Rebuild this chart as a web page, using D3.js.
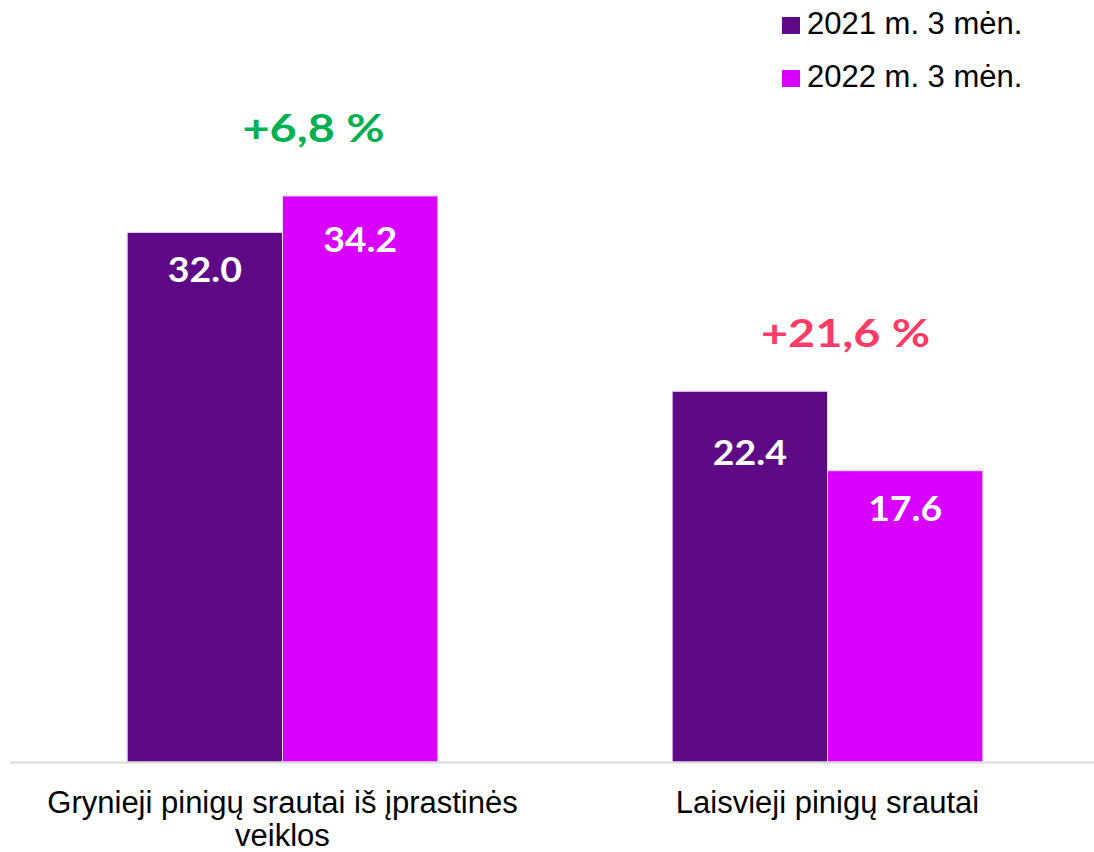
<!DOCTYPE html>
<html>
<head>
<meta charset="utf-8">
<script src="https://cdn.jsdelivr.net/npm/d3@7"></script>
<style>
  body { margin: 0; background: #fff; }
  svg { display: block; }
</style>
</head>
<body>
<svg width="1094" height="852"></svg>
<script>
const categories = [["Grynieji pinigų srautai iš įprastinės", "veiklos"], ["Laisvieji pinigų srautai"]];
const series = ["2021 m. 3 mėn.", "2022 m. 3 mėn."];
const values2021 = [32.0, 22.4];
const values2022 = [34.2, 17.6];
const changeLabels = ["+6,8 %", "+21,6 %"];
const changeColors = ["#00B050", "#FF3B68"];
const colors = ["#5E0A87", "#D800FF"];

// hand-tuned label placement (pixels), like in the original slide
const changeShift = [[31, 54], [18, 44]];      // [dx from group centre, lift above tallest bar]
const valueDrop = [[50, 56], [74, 50]];        // baseline distance below bar top

const svg = d3.select("svg");
const baseY = 762;

const x = d3.scaleBand()
    .domain(d3.range(categories.length))
    .range([10, 1100])
    .paddingInner(0.43)
    .paddingOuter(0.215);

const xs = d3.scaleBand()
    .domain(series)
    .range([0, x.bandwidth()]);

const y = d3.scaleLinear()
    .domain([0, 40])
    .range([baseY, 100]);

const rows = categories.map((c, i) => ({ i, vals: [values2021[i], values2022[i]] }));

// bars
const grp = svg.selectAll("g.grp")
    .data(rows)
    .join("g")
    .attr("class", "grp")
    .attr("transform", d => `translate(${x(d.i)},0)`);

grp.selectAll("rect")
    .data(d => d.vals.map((v, k) => ({ v, s: series[k], k, i: d.i })))
    .join("rect")
    .attr("x", d => xs(d.s))
    .attr("y", d => y(d.v))
    .attr("width", xs.bandwidth())
    .attr("height", d => baseY - y(d.v))
    .attr("fill", d => colors[d.k])
    .attr("stroke", "#e8d8f0")
    .attr("stroke-width", 1);

grp.selectAll("text.val")
    .data(d => d.vals.map((v, k) => ({ v, s: series[k], k, i: d.i })))
    .join("text")
    .attr("class", "val")
    .attr("transform", d => `translate(${xs(d.s) + xs.bandwidth() / 2},${y(d.v) + valueDrop[d.i][d.k]}) scale(1.07,1)`)
    .attr("text-anchor", "middle")
    .attr("fill", "#fff")
    .style("font-family", "Lato, 'Open Sans', sans-serif")
    .style("font-weight", 700)
    .style("font-size", "35px")
    .text(d => d3.format(".1f")(d.v));

// change labels above groups
grp.append("text")
    .attr("transform", d => `translate(${x.bandwidth() / 2 + changeShift[d.i][0]},${y(d3.max(d.vals)) - changeShift[d.i][1]}) scale(1.2,1)`)
    .attr("text-anchor", "middle")
    .attr("fill", d => changeColors[d.i])
    .style("font-family", "Lato, 'Open Sans', sans-serif")
    .style("font-weight", 700)
    .style("font-size", "39px")
    .text(d => changeLabels[d.i]);

// axis line
svg.append("line")
    .attr("x1", 10).attr("x2", 1094)
    .attr("y1", baseY + 0.5).attr("y2", baseY + 0.5)
    .attr("stroke", "#d9d9d9")
    .attr("stroke-width", 2);

// category labels
const cat = svg.selectAll("text.cat")
    .data(categories)
    .join("text")
    .attr("class", "cat")
    .attr("text-anchor", "middle")
    .attr("fill", "#000")
    .style("font-family", "'Liberation Sans', Arial, sans-serif")
    .style("font-size", "31px");

cat.selectAll("tspan")
    .data((d, i) => d.map(line => ({ line, i })))
    .join("tspan")
    .attr("x", d => x(d.i) + x.bandwidth() / 2)
    .attr("y", (d, j) => 813 + j * 33)
    .text(d => d.line);

// legend
const leg = svg.selectAll("g.leg")
    .data(series)
    .join("g")
    .attr("class", "leg")
    .attr("transform", (d, i) => `translate(782,${34 + i * 53})`);

leg.append("rect")
    .attr("y", -17)
    .attr("width", 18).attr("height", 17)
    .attr("fill", (d, i) => colors[i]);

leg.append("text")
    .attr("x", 25)
    .attr("y", 0)
    .attr("fill", "#000")
    .style("font-family", "'Liberation Sans', Arial, sans-serif")
    .style("font-size", "31px")
    .text(d => d);
</script>
</body>
</html>
